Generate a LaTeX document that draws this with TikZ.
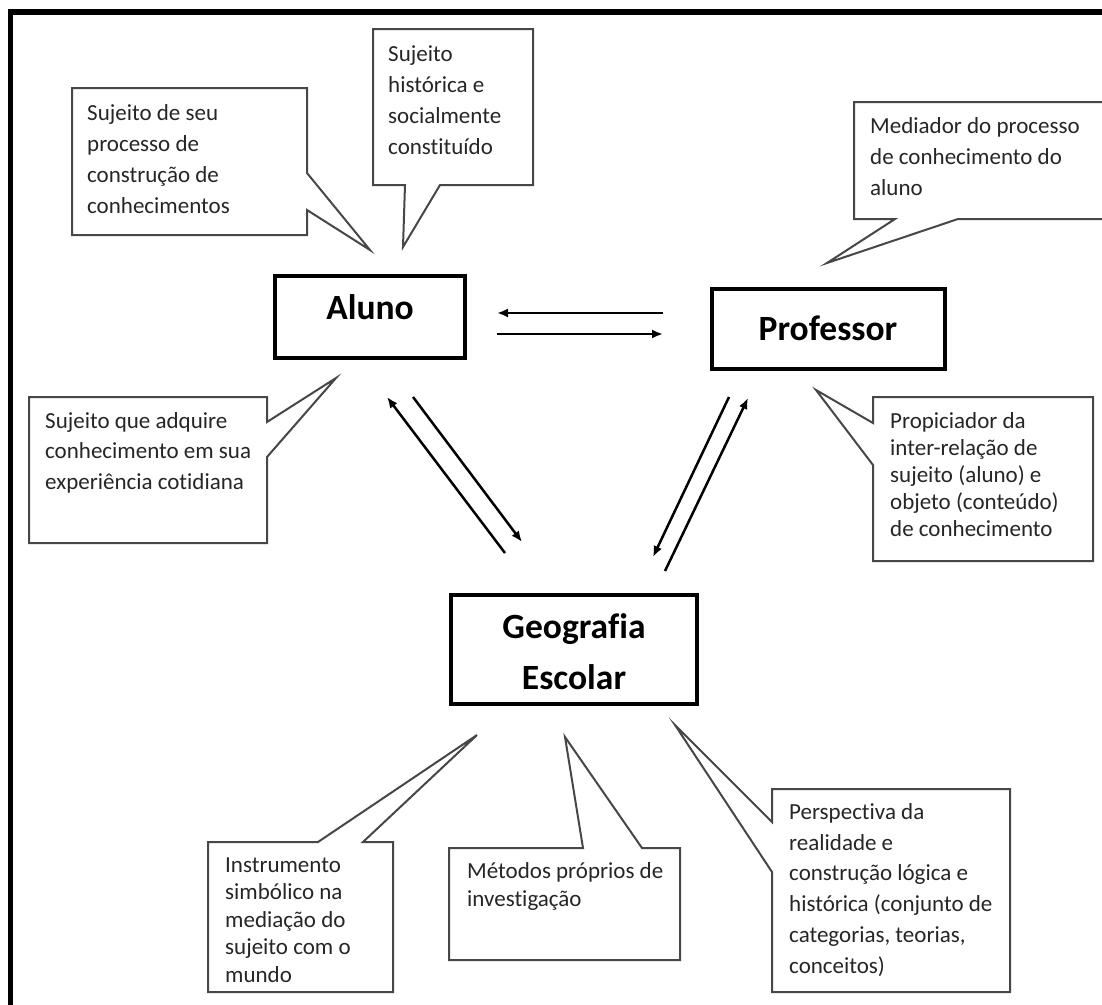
\documentclass[tikz,border=0pt]{standalone}
\usepackage{fontspec}
\setmainfont{Carlito}[Ligatures=NoCommon]
\usetikzlibrary{arrows.meta}
\newcommand\fstrut{\rule{0pt}{19pt}}
\begin{document}
\begin{tikzpicture}[x=1pt,y=-1pt,
  frameline/.style={line width=5.5pt, draw=black},
  callout/.style={draw=black!72, line width=2pt, fill=white, line join=miter},
  ctext/.style={anchor=north west, inner sep=0pt, align=left, text=black!85},
  mainbox/.style={draw=black, line width=4pt, inner sep=0pt},
  btext/.style={inner sep=0pt, anchor=base, font=\fontsize{35.5}{51}\selectfont\bfseries},
  arr/.style={line width=2.5pt, draw=black, -{Latex[length=11pt,width=9pt]}}]
\useasboundingbox (0,0) rectangle (1102,1004);
\fill[white] (0,0) rectangle (1102,1004);
% frame
\draw[frameline] (10.5,1012) -- (10.5,12) -- (1112,12);

% main boxes
\node[mainbox, minimum width=190pt, minimum height=82pt] (aluno) at (370,316.5) {};
\node[btext] (alunot) at (370,319) {Aluno};
\node[mainbox, minimum width=233pt, minimum height=80pt] (prof) at (828,328.5) {};
\node[btext] (proft) at (828,340) {Professor};
\node[mainbox, minimum width=246pt, minimum height=109pt] (geo) at (573.5,649) {};
\node[btext] (geot1) at (574,638) {Geografia};
\node[btext] (geot2) at (574,689) {Escolar};

% arrow end coordinates
\coordinate (h1s) at (663,313); \coordinate (h1e) at (497,313);
\coordinate (h2s) at (497,334); \coordinate (h2e) at (663,334);
\coordinate (d1s) at (505,553); \coordinate (d1e) at (387,397);
\coordinate (d2s) at (413,397); \coordinate (d2e) at (522,542);
\coordinate (r1s) at (729,397); \coordinate (r1e) at (653,557);
\coordinate (r2s) at (665,571); \coordinate (r2e) at (748,398);
\draw[arr] (h1s) -- (h1e);
\draw[arr] (h2s) -- (h2e);
\draw[arr] (d1s) -- (d1e);
\draw[arr] (d2s) -- (d2e);
\draw[arr] (r1s) -- (r1e);
\draw[arr] (r2s) -- (r2e);

% callouts
\draw[callout] (72,88) -- (307,88) -- (307,173) -- (370,250) -- (307,210) -- (307,235) -- (72,235) -- cycle;
\node[ctext, font=\fontsize{23}{31}\selectfont] (c1) at (87,101)
  {\fstrut Sujeito de seu\\processo de\\construção de\\conhecimentos};

\draw[callout] (373,29) -- (533,29) -- (533,185) -- (440,185) -- (403,247) -- (405,185) -- (373,185) -- cycle;
\node[ctext, font=\fontsize{23}{31}\selectfont] (c2) at (388,42)
  {\fstrut Sujeito\\histórica e\\socialmente\\constituído};

\draw[callout] (854,102) -- (1115,102) -- (1115,219) -- (958,219) -- (827,263) -- (895,219) -- (854,219) -- cycle;
\node[ctext, font=\fontsize{23}{31}\selectfont] (c3) at (870,114)
  {\fstrut Mediador do processo\\de conhecimento do\\aluno};

\draw[callout] (29,397) -- (267,397) -- (267,422) -- (336,378) -- (267,457) -- (267,543) -- (29,543) -- cycle;
\node[ctext, font=\fontsize{23}{30.5}\selectfont] (c4) at (45,409)
  {\fstrut Sujeito que adquire\\conhecimento em sua\\experiência cotidiana};

\draw[callout] (873,397) -- (1093,397) -- (1093,561) -- (873,561) -- (873,465) -- (816,390) -- (873,423) -- cycle;
\node[ctext, font=\fontsize{23}{27}\selectfont] (c5) at (890,409)
  {\fstrut Propiciador da\\inter-relação de\\sujeito (aluno) e\\objeto (conteúdo)\\de conhecimento};

\draw[callout] (208,842) -- (318,842) -- (477,735) -- (363,842) -- (393,842) -- (393,992) -- (208,992) -- cycle;
\node[ctext, font=\fontsize{23}{27.5}\selectfont] (c6) at (225,853)
  {\fstrut Instrumento\\simbólico na\\mediação do\\sujeito com o\\mundo};

\draw[callout] (449,848) -- (583,848) -- (565,737) -- (642,848) -- (680,848) -- (680,960) -- (449,960) -- cycle;
\node[ctext, font=\fontsize{23}{28}\selectfont] (c7) at (467,859)
  {\fstrut Métodos próprios de\\investigação};

\draw[callout] (772,789) -- (1010,789) -- (1010,992) -- (772,992) -- (772,872) -- (675,725) -- (772,822) -- cycle;
\node[ctext, font=\fontsize{23}{30.8}\selectfont] (c8) at (789,800)
  {\fstrut Perspectiva da\\realidade e\\construção lógica e\\histórica (conjunto de\\categorias, teorias,\\conceitos)};
\end{tikzpicture}
\end{document}
